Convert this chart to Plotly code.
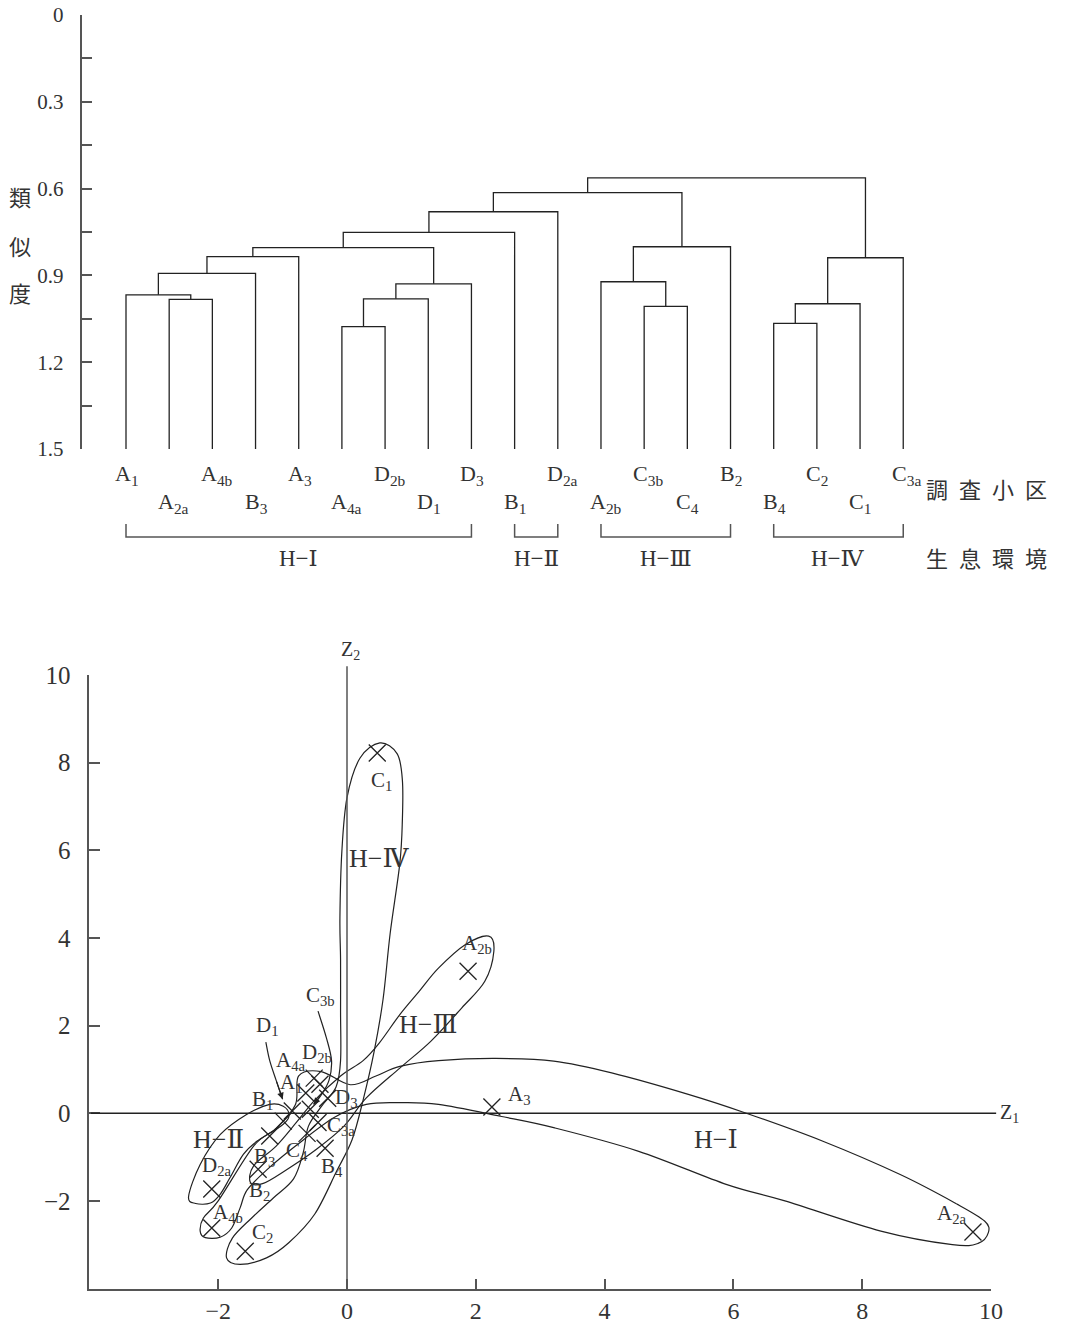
import plotly.graph_objects as go

# ---------------- cluster analysis (dendrogram) ----------------
leaves = ["A1", "A2a", "A4b", "B3", "A3", "A4a", "D2b", "D1", "D3", "B1",
          "D2a", "A2b", "C3b", "C4", "B2", "B4", "C2", "C1", "C3a"]
# (left member, right member, similarity); integers refer to earlier merges
merges = [
    ("A2a", "A4b", 0.983),
    ("A1", 0, 0.967),
    (1, "B3", 0.893),
    (2, "A3", 0.835),
    ("A4a", "D2b", 1.077),
    (4, "D1", 0.981),
    (5, "D3", 0.929),
    (3, 6, 0.804),
    (7, "B1", 0.751),
    (8, "D2a", 0.680),
    ("C3b", "C4", 1.007),
    ("A2b", 10, 0.922),
    (11, "B2", 0.801),
    (9, 12, 0.614),
    ("B4", "C2", 1.066),
    (14, "C1", 0.998),
    (15, "C3a", 0.839),
    (13, 16, 0.563),
]
sim_ticks = [0, 0.15, 0.3, 0.45, 0.6, 0.75, 0.9, 1.05, 1.2, 1.35, 1.5]
sim_labels = ["0", "", "0.3", "", "0.6", "", "0.9", "", "1.2", "", "1.5"]
habitats = ["H−Ⅰ", "H−Ⅱ", "H−Ⅲ", "H−Ⅳ"]
habitat_first = ["A1", "B1", "A2b", "B4"]
habitat_last = ["D3", "D2a", "B2", "C3a"]

# ---------------- principal component scores ----------------
sites = ["A1", "A2a", "A4b", "B3", "A3", "A4a", "D2b", "D1", "D3", "B1",
         "D2a", "A2b", "C3b", "C4", "B2", "B4", "C2", "C1", "C3a"]
z1 = [-0.64, 9.72, -2.10, -1.20, 2.25, -0.51, -0.42, -0.85, -0.30, -0.99,
      -2.10, 1.88, -0.57, -0.62, -1.38, -0.34, -1.58, 0.47, -0.45]
z2 = [0.46, -2.71, -2.62, -0.52, 0.14, 0.80, 0.66, 0.05, 0.34, -0.18,
      -1.73, 3.24, 0.09, -0.46, -1.28, -0.80, -3.15, 8.22, -0.21]
z_ticks = [-2, 0, 2, 4, 6, 8, 10]
z_tick_text = ["−2", "0", "2", "4", "6", "8", "10"]

# habitat outlines on the Z1-Z2 plane
loop_h1 = [(0.82, 1.07), (1.42, 1.20), (2.31, 1.25), (3.21, 1.19), (4.11, 0.92),
           (5.30, 0.43), (6.2, 0.0), (7.39, -0.64), (8.59, -1.40), (9.48, -2.08),
           (9.9, -2.46), (9.96, -2.72), (9.8, -2.97), (9.4, -3.0), (8.29, -2.69),
           (6.8, -2.0), (5.9, -1.63), (4.53, -0.87), (3.21, -0.33), (2.38, -0.07),
           (1.42, 0.2), (0.82, 0.24), (0.3, 0.2), (-0.2, -0.1), (-0.8, -0.75),
           (-1.25, -1.3), (-1.55, -1.75), (-1.66, -2.16), (-1.79, -2.62),
           (-1.97, -2.83), (-2.2, -2.84), (-2.28, -2.69), (-2.23, -2.39),
           (-2.0, -2.0), (-1.45, -0.75), (-1.1, -0.35), (-0.8, 0.2),
           (-0.75, 0.85), (-0.4, 0.95), (0.05, 0.65), (0.45, 0.85)]
loop_h2 = [(-0.99, 0.16), (-0.9, -0.03), (-0.99, -0.25), (-1.4, -0.64),
           (-1.61, -0.94), (-1.82, -1.48), (-1.97, -1.85), (-2.12, -2.05),
           (-2.35, -2.06), (-2.46, -1.9), (-2.28, -1.17), (-1.97, -0.49),
           (-1.56, -0.03), (-1.2, 0.2)]
loop_h3 = [(2.2, 4.04), (2.28, 3.69), (2.14, 3.01), (1.78, 2.4), (1.3, 1.64),
           (0.82, 1.03), (0.3, 0.35), (-0.05, -0.3), (-0.5, -0.85), (-0.95, -1.3),
           (-1.3, -1.6), (-1.5, -1.58), (-1.45, -1.2), (-1.1, -0.75), (-0.78, -0.2),
           (-0.5, 0.3), (-0.1, 0.85), (0.25, 1.2), (0.5, 1.6), (0.82, 2.25),
           (1.12, 2.78), (1.42, 3.31), (1.84, 3.85)]
loop_h4 = [(0.51, 8.45), (0.78, 8.2), (0.86, 7.6), (0.86, 6.7), (0.82, 5.7),
           (0.67, 4.1), (0.56, 2.6), (0.42, 1.4), (0.25, 0.3), (0.08, -0.6),
           (-0.16, -1.32), (-0.5, -2.3), (-0.9, -2.95), (-1.25, -3.3),
           (-1.66, -3.45), (-1.87, -3.3), (-1.78, -2.85), (-1.48, -2.39),
           (-1.14, -1.93), (-0.83, -1.5), (-0.68, -0.9), (-0.6, -0.3),
           (-0.4, 0.15), (-0.17, 0.6), (-0.1, 1.2), (-0.1, 2.3), (-0.1, 3.5),
           (-0.11, 4.45), (-0.08, 5.97), (0.0, 7.2), (0.2, 8.1)]
pointer_d1 = [(-1.26, 1.62), (-1.2, 1.2), (-1.1, 0.75), (-1.0, 0.32)]
pointer_c3b = [(-0.45, 2.33), (-0.32, 1.72), (-0.24, 1.2), (-0.28, 0.75),
               (-0.4, 0.42), (-0.52, 0.2)]

# label placement (pixel offsets from each point)
label_shift = {
    "A1": (-14, 10), "A2a": (-21, 18), "A4b": (16, 15), "B3": (-5, -21),
    "A3": (28, 12), "A4a": (-23, 17), "D2b": (-3, 31), "D1": (-25, 85),
    "D3": (19, 0), "B1": (-21, 21), "D2a": (5, 23), "A2b": (9, 27),
    "C3b": (10, 113), "C4": (-10, -18), "B2": (1, -22), "B4": (7, -19),
    "C2": (17, 18), "C1": (4, -28), "C3a": (23, -4),
}
region_labels = [("H−Ⅰ", 5.73, -0.59), ("H−Ⅱ", -2.0, -0.59),
                 ("H−Ⅲ", 1.27, 2.03), ("H−Ⅳ", 0.49, 5.82)]

INK = "#222222"
TXT = "#333333"
AX = "#555555"
SERIF = "Liberation Serif, DejaVu Serif, Noto Sans CJK JP, serif"
CJK = "Noto Sans CJK JP, Noto Sans CJK SC, sans-serif"
W, H = 1072, 1324


def sub_label(name):
    return name[0] + "<sub>" + name[1:] + "</sub>"


def smooth_path(pts, closed=True):
    n = len(pts)
    if closed:
        get = lambda i: pts[i % n]
        segs = range(n)
    else:
        get = lambda i: pts[min(max(i, 0), n - 1)]
        segs = range(n - 1)
    d = "M {:.4f},{:.4f}".format(*pts[0])
    for i in segs:
        p0, p1, p2, p3 = get(i - 1), get(i), get(i + 1), get(i + 2)
        c1 = (p1[0] + (p2[0] - p0[0]) / 6, p1[1] + (p2[1] - p0[1]) / 6)
        c2 = (p2[0] - (p3[0] - p1[0]) / 6, p2[1] - (p3[1] - p1[1]) / 6)
        d += " C {:.4f},{:.4f} {:.4f},{:.4f} {:.4f},{:.4f}".format(*c1, *c2, *p2)
    if closed:
        d += " Z"
    return d


fig = go.Figure()

# ---- dendrogram links ----
pos = {name: (i, 1.5) for i, name in enumerate(leaves)}
node = {}
dx, dy = [], []
for k, (a, b, h) in enumerate(merges):
    pa = node[a] if isinstance(a, int) else pos[a]
    pb = node[b] if isinstance(b, int) else pos[b]
    dx += [pa[0], pa[0], pb[0], pb[0], None]
    dy += [pa[1], h, h, pb[1], None]
    node[k] = ((pa[0] + pb[0]) / 2, h)
fig.add_trace(go.Scatter(x=dx, y=dy, mode="lines", xaxis="x2", yaxis="y2",
                         line=dict(color=INK, width=1.3), hoverinfo="skip",
                         showlegend=False))

# ---- habitat brackets under the leaves ----
bx, by = [], []
for first, last in zip(habitat_first, habitat_last):
    i0, i1 = leaves.index(first), leaves.index(last)
    bx += [i0, i0, i1, i1, None]
    by += [69, 82, 82, 69, None]
fig.add_trace(go.Scatter(x=bx, y=by, mode="lines", xaxis="x2", yaxis="y3",
                         line=dict(color=AX, width=1.5), hoverinfo="skip",
                         showlegend=False))

ann = []
for i, name in enumerate(leaves):
    ann.append(dict(x=i, y=20 if i % 2 == 0 else 48, xref="x2", yref="y3",
                    text=sub_label(name), showarrow=False, xanchor="left",
                    yanchor="middle", xshift=-13,
                    font=dict(family=SERIF, size=22, color=TXT)))
for lab, first, last in zip(habitats, habitat_first, habitat_last):
    c = (leaves.index(first) + leaves.index(last)) / 2
    ann.append(dict(x=c, y=103, xref="x2", yref="y3", text=lab, showarrow=False,
                    xanchor="center", yanchor="middle",
                    font=dict(family=SERIF, size=23, color=TXT)))
ann.append(dict(x=924 / W, y=1 - 488 / H, xref="paper", yref="paper",
                text="調\u2002査\u2002小\u2002区", showarrow=False,
                xanchor="left", yanchor="middle",
                font=dict(family=CJK, size=22, color=TXT)))
ann.append(dict(x=924 / W, y=1 - 557 / H, xref="paper", yref="paper",
                text="生\u2002息\u2002環\u2002境", showarrow=False,
                xanchor="left", yanchor="middle",
                font=dict(family=CJK, size=22, color=TXT)))
for ch, py in zip("類似度", [196, 245, 292]):
    ann.append(dict(x=20 / W, y=1 - py / H, xref="paper", yref="paper", text=ch,
                    showarrow=False, xanchor="center", yanchor="middle",
                    font=dict(family=CJK, size=22, color=TXT)))

# ---- scatter of sites ----
fig.add_trace(go.Scatter(x=z1, y=z2, mode="markers", xaxis="x", yaxis="y",
                         marker=dict(symbol="x-thin", size=17,
                                     line=dict(color=INK, width=1.3)),
                         hoverinfo="skip", showlegend=False))
for name, a, b in zip(sites, z1, z2):
    sx, sy = label_shift[name]
    ann.append(dict(x=a, y=b, xref="x", yref="y", text=sub_label(name),
                    showarrow=False, xshift=sx, yshift=sy,
                    xanchor="center", yanchor="middle",
                    font=dict(family=SERIF, size=21, color=TXT)))
for lab, a, b in region_labels:
    ann.append(dict(x=a, y=b, xref="x", yref="y", text=lab, showarrow=False,
                    xanchor="center", yanchor="middle",
                    font=dict(family=SERIF, size=26, color=TXT)))

# Z1 / Z2 reference axes
ann.append(dict(x=10.08, y=0, ax=-4, ay=0, xref="x", yref="y", axref="x",
                ayref="y", text="", showarrow=True, arrowhead=0,
                arrowwidth=1.5, arrowcolor=INK, standoff=0, startstandoff=0))
ann.append(dict(x=0, y=10.2, ax=0, ay=-4, xref="x", yref="y", axref="x",
                ayref="y", text="", showarrow=True, arrowhead=0,
                arrowwidth=1.5, arrowcolor=AX, standoff=0, startstandoff=0))
ann.append(dict(x=10, y=0, xref="x", yref="y", text="Z<sub>1</sub>",
                showarrow=False, xanchor="left", yanchor="middle", xshift=7,
                font=dict(family=SERIF, size=20, color=TXT)))
ann.append(dict(x=0, y=10, xref="x", yref="y", text="Z<sub>2</sub>",
                showarrow=False, xanchor="left", yanchor="bottom", xshift=-8,
                yshift=10, font=dict(family=SERIF, size=20, color=TXT)))

# pointers from crowded labels
for pts in (pointer_d1, pointer_c3b):
    ann.append(dict(x=pts[-1][0], y=pts[-1][1], ax=pts[-2][0], ay=pts[-2][1],
                    xref="x", yref="y", axref="x", ayref="y", text="",
                    showarrow=True, arrowhead=2, arrowsize=1.1, arrowwidth=1.2,
                    arrowcolor=INK, standoff=0))

shapes = []
for loop in (loop_h1, loop_h2, loop_h3, loop_h4):
    shapes.append(dict(type="path", xref="x", yref="y", path=smooth_path(loop),
                       line=dict(color=INK, width=1.2)))
for pts in (pointer_d1, pointer_c3b):
    shapes.append(dict(type="path", xref="x", yref="y",
                       path=smooth_path(pts, closed=False),
                       line=dict(color=INK, width=1.2)))

fig.update_layout(
    width=W, height=H, margin=dict(l=0, r=0, t=0, b=0, autoexpand=False),
    paper_bgcolor="white", plot_bgcolor="white",
    annotations=ann, shapes=shapes,
    xaxis=dict(domain=[89.4 / W, 991 / W], range=[-4, 10], anchor="y",
               automargin=False,
               showline=True, linecolor=AX, linewidth=1.6, ticks="inside",
               ticklen=10, tickwidth=1.6, tickcolor=AX, tickvals=z_ticks,
               ticktext=z_tick_text, showgrid=False, zeroline=False,
               ticklabelstandoff=0,
               tickfont=dict(family=SERIF, size=24, color=TXT)),
    yaxis=dict(domain=[1 - 1288.5 / H, 1 - 675 / H], range=[-4, 10], anchor="x",
               automargin=False,
               showline=True, linecolor=AX, linewidth=1.6, ticks="inside",
               ticklen=11, tickwidth=1.6, tickcolor=AX, tickvals=z_ticks,
               ticktext=z_tick_text, showgrid=False, zeroline=False,
               ticklabelstandoff=12,
               tickfont=dict(family=SERIF, size=25, color=TXT)),
    xaxis2=dict(domain=[81.5 / W, 1.0], range=[-(126 - 81.5) / 43.18,
                (W - 126) / 43.18], anchor="y2", visible=False,
                automargin=False),
    yaxis2=dict(domain=[1 - 449 / H, 1 - 15 / H], range=[1.5, 0], anchor="x2",
                automargin=False,
                showline=True, linecolor=AX, linewidth=1.6, ticks="inside",
                ticklen=11, tickwidth=1.6, tickcolor=AX, tickvals=sim_ticks,
                ticktext=sim_labels, showgrid=False, zeroline=False,
                ticklabelstandoff=12,
                tickfont=dict(family=SERIF, size=21, color=TXT)),
    yaxis3=dict(domain=[1 - 600 / H, 1 - 455 / H], range=[145, 0], anchor="x2",
                visible=False, automargin=False),
)

# the page body carries a default margin; remove it so the figure fills the window
fig.write_html("out.html",
               post_script="document.body.style.margin='0';"
                           "document.body.style.overflow='hidden';")
